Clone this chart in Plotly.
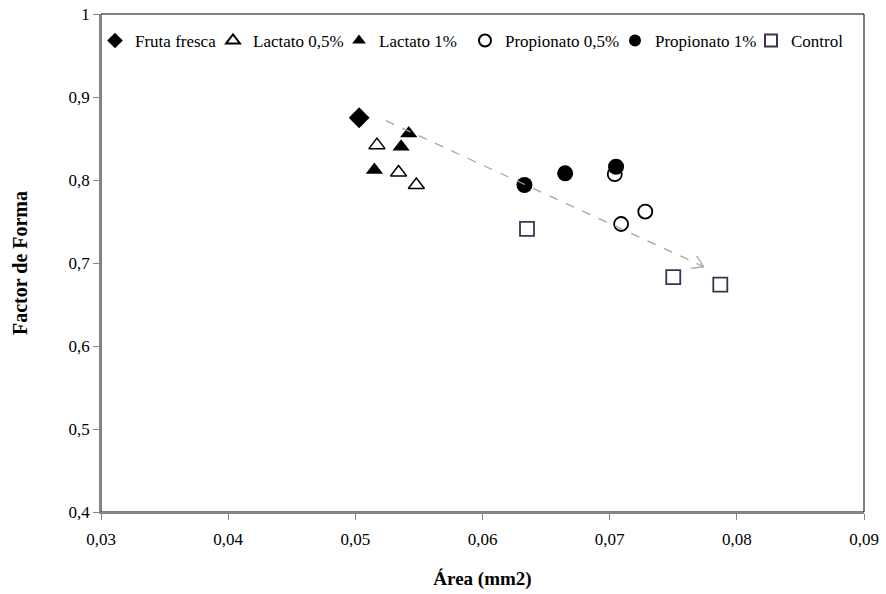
import math
import plotly.graph_objects as go

# Data (Área mm2, Factor de Forma)
fruta_x = [0.0503]
fruta_y = [0.875]

lact05_x = [0.0517, 0.0534, 0.0548]
lact05_y = [0.842, 0.809, 0.794]

lact1_x = [0.0542, 0.0536, 0.0515]
lact1_y = [0.856, 0.840, 0.812]

prop05_x = [0.0704, 0.0709, 0.0728]
prop05_y = [0.807, 0.747, 0.762]

prop1_x = [0.0633, 0.0665, 0.0705]
prop1_y = [0.794, 0.808, 0.816]

control_x = [0.0635, 0.0750, 0.0787]
control_y = [0.741, 0.683, 0.674]

trend_start = (0.0524, 0.8715)
trend_end = (0.0774, 0.6955)

x_ticks = [0.03, 0.04, 0.05, 0.06, 0.07, 0.08, 0.09]
x_ticklabels = ["0,03", "0,04", "0,05", "0,06", "0,07", "0,08", "0,09"]
y_ticks = [0.4, 0.5, 0.6, 0.7, 0.8, 0.9, 1.0]
y_ticklabels = ["0,4", "0,5", "0,6", "0,7", "0,8", "0,9", "1"]

FONT = "Liberation Serif"
W, H = 886, 594
ML, MR, MT, MB = 101, 22, 14, 82
PW, PH = W - ML - MR, H - MT - MB
XR, YR = (0.03, 0.09), (0.4, 1.0)

fig = go.Figure()

# legend text start positions (px) for each series
legend_text_px = [129, 247, 373, 499, 649, 785]

def add(i, name, xs, ys, symbol, size, color="black", fill=None, lw=1.5):
    lg = "legend" if i == 0 else f"legend{i+1}"
    fig.add_trace(go.Scatter(
        x=xs, y=ys, mode="markers", name=name, legend=lg,
        marker=dict(symbol=symbol, size=size,
                    color=fill if fill else color,
                    line=dict(color=color, width=lw)),
    ))

add(0, "Fruta fresca", fruta_x, fruta_y, "diamond", 16, fill="black", lw=0)
add(1, "Lactato 0,5%", lact05_x, lact05_y, "triangle-up-open", 14)
add(2, "Lactato 1%", lact1_x, lact1_y, "triangle-up", 15, lw=0)
add(3, "Propionato 0,5%", prop05_x, prop05_y, "circle-open", 14, lw=1.8)
add(4, "Propionato 1%", prop1_x, prop1_y, "circle", 16, lw=0)
add(5, "Control", control_x, control_y, "square-open", 14, color="#3f3151", lw=1.8)

# dashed trend arrow
ARROW = "#a6a6a6"
fig.add_shape(type="line", xref="x", yref="y",
              x0=trend_start[0], y0=trend_start[1],
              x1=trend_end[0], y1=trend_end[1],
              line=dict(color=ARROW, width=1.3, dash="dash"))
# open arrowhead (chevron) drawn in pixel units anchored at the end point
dxp = (trend_end[0] - trend_start[0]) / (XR[1] - XR[0]) * PW
dyp = (trend_end[1] - trend_start[1]) / (YR[1] - YR[0]) * PH
L = math.hypot(dxp, dyp)
ux, uy = -dxp / L, -dyp / L
head_len, head_ang = 13, math.radians(32)
for s in (1, -1):
    c, sn = math.cos(s * head_ang), math.sin(s * head_ang)
    hx = (ux * c - uy * sn) * head_len
    hy = (ux * sn + uy * c) * head_len
    fig.add_shape(type="line", xref="x", yref="y",
                  xsizemode="pixel", ysizemode="pixel",
                  xanchor=trend_end[0], yanchor=trend_end[1],
                  x0=0, y0=0, x1=hx, y1=hy,
                  line=dict(color=ARROW, width=1.3))

# plot-area border (top/right black)
fig.add_shape(type="rect", xref="paper", yref="paper", x0=0, y0=0, x1=1, y1=1,
              line=dict(color="black", width=1), layer="below")

legend_common = dict(orientation="h", yanchor="top", y=0.982, xanchor="left",
                     font=dict(family=FONT, size=17), itemwidth=30,
                     bgcolor="rgba(0,0,0,0)", itemsizing="constant",
                     borderwidth=0)
legends = {}
for i, tx in enumerate(legend_text_px):
    key = "legend" if i == 0 else f"legend{i+1}"
    legends[key] = dict(legend_common, x=(tx - 34 - ML) / PW)

fig.update_layout(
    width=W, height=H,
    margin=dict(l=ML, r=MR, t=MT, b=MB, autoexpand=False),
    paper_bgcolor="white", plot_bgcolor="white",
    font=dict(family=FONT, size=17, color="black"),
    showlegend=True,
    **legends,
    xaxis=dict(range=list(XR), tickvals=x_ticks, ticktext=x_ticklabels,
               showgrid=False, zeroline=False, showline=True, linecolor="#868686",
               linewidth=1.5, ticks="outside", ticklen=6, tickcolor="#868686",
               tickfont=dict(family=FONT, size=17), automargin=False,
               ticklabelstandoff=5, ticklabeloverflow="allow",
               title=dict(text="<b>Área (mm2)</b>", font=dict(family=FONT, size=19),
                          standoff=24)),
    yaxis=dict(range=list(YR), tickvals=y_ticks, ticktext=y_ticklabels,
               showgrid=False, zeroline=False, showline=True, linecolor="#868686",
               linewidth=1.5, ticks="outside", ticklen=6, tickcolor="#868686",
               tickfont=dict(family=FONT, size=17), automargin=False,
               ticklabeloverflow="allow",
               title=dict(text="<b>Factor de Forma</b>", font=dict(family=FONT, size=20),
                          standoff=36)),
)

fig.write_html("out.html",
               config={"displayModeBar": False},
               post_script="document.body.style.margin='0';document.body.style.overflow='hidden';")
